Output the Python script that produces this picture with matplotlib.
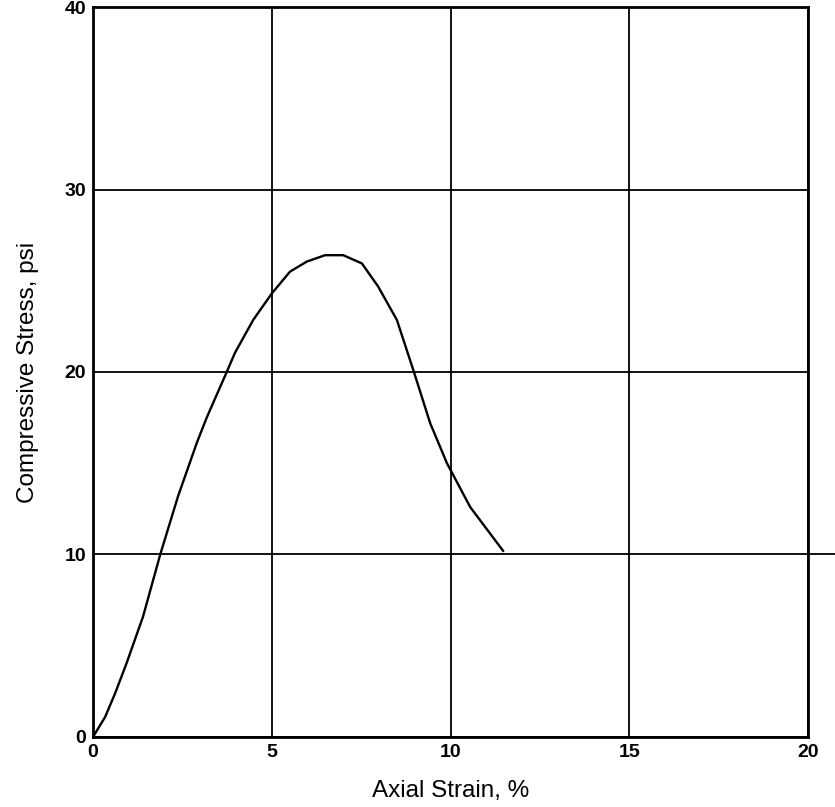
import matplotlib
matplotlib.use("Agg")
import matplotlib.pyplot as plt

# Unconfined compression test: stress-strain curve
strain = [0.0, 0.34, 0.62, 0.94, 1.4, 1.88, 2.38, 2.9, 3.18, 3.74, 3.97, 4.48,
          5.0, 5.51, 5.98, 6.49, 7.0, 7.52, 7.97, 8.5, 8.96, 9.43, 9.9, 10.55, 11.47]
stress = [0.0, 1.1, 2.4, 4.05, 6.6, 10.0, 13.2, 16.1, 17.5, 20.0, 21.05, 22.85,
          24.3, 25.5, 26.05, 26.4, 26.4, 25.95, 24.7, 22.85, 20.1, 17.2, 15.0, 12.6, 10.2]

x_ticks = [0, 5, 10, 15, 20]
y_ticks = [0, 10, 20, 30, 40]

plt.rcParams['font.family'] = ['Liberation Sans', 'DejaVu Sans']

fig = plt.figure(figsize=(8.35, 8.07), dpi=100)
ax = fig.add_axes([0.1114, 0.0868, 0.8563, 0.9045])

ax.plot(strain, stress, color='black', lw=1.7)

ax.set_xlim(0, 20)
ax.set_ylim(0, 40)
ax.set_xticks(x_ticks)
ax.set_yticks(y_ticks)
ax.set_xticklabels([str(t) for t in x_ticks], fontsize=14, fontweight='bold')
ax.set_yticklabels([str(t) for t in y_ticks], fontsize=14, fontweight='bold')
ax.tick_params(length=0, pad=5)

ax.grid(True, color='black', lw=1.3)
ax.set_axisbelow(True)
for s in ax.spines.values():
    s.set_linewidth(2)

# the 10 psi grid line runs on past the right edge
ax.plot([20, 21.25], [10, 10], color='black', lw=1.3, clip_on=False)

ax.set_xlabel('Axial Strain, %', fontsize=17.5, labelpad=14)
ax.set_ylabel('Compressive Stress, psi', fontsize=17.5, labelpad=18)

fig.savefig('out.png', dpi=100)
